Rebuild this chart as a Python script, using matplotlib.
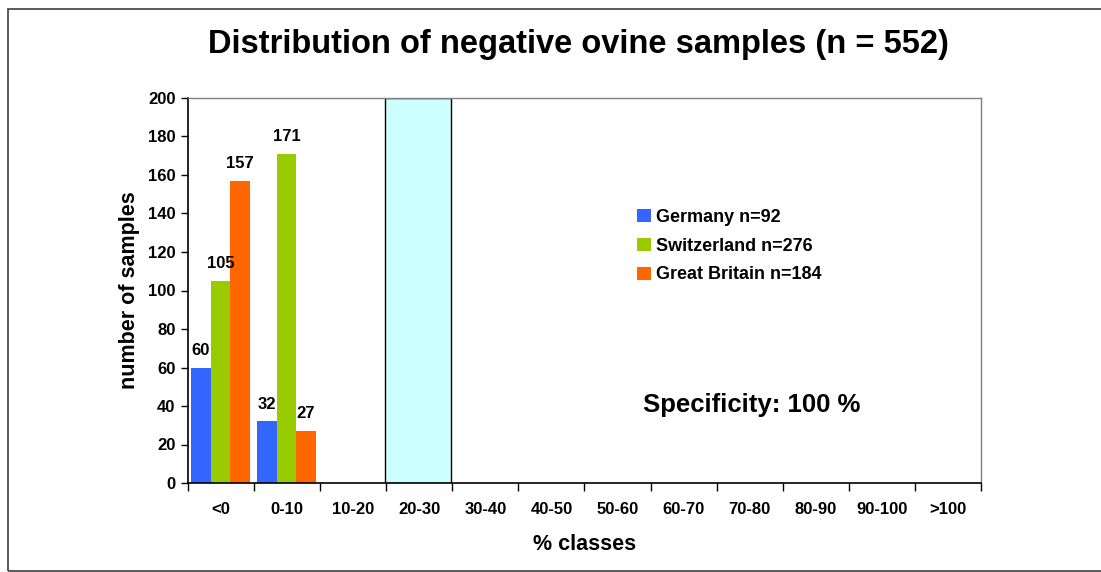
#!/usr/bin/env python3
"""Distribution of negative ovine samples per % class and country."""
import numpy as np
import matplotlib

matplotlib.use("Agg")
import matplotlib.pyplot as plt
from matplotlib.patches import Rectangle

plt.rcParams.update({"font.family": ["Liberation Sans", "DejaVu Sans"], "font.weight": "bold"})

CLASSES = ["<0", "0-10", "10-20", "20-30", "30-40", "40-50", "50-60",
           "60-70", "70-80", "80-90", "90-100", ">100"]
GERMANY = [60, 32, 0, 0, 0, 0, 0, 0, 0, 0, 0, 0]
SWITZERLAND = [105, 171, 0, 0, 0, 0, 0, 0, 0, 0, 0, 0]
GREAT_BRITAIN = [157, 27, 0, 0, 0, 0, 0, 0, 0, 0, 0, 0]
SERIES = [
    ("Germany n=92", GERMANY, "#3366FF"),
    ("Switzerland n=276", SWITZERLAND, "#99CC00"),
    ("Great Britain n=184", GREAT_BRITAIN, "#FF6600"),
]
CUTOFF_CLASS = "20-30"
Y_MAX = 200

fig = plt.figure(figsize=(11.01, 5.72), dpi=100)
ax = fig.add_axes([188 / 1101, 1 - 483 / 572, (981 - 188) / 1101, (483 - 98) / 572])

x = np.arange(len(CLASSES))
w = 0.295
ci = CLASSES.index(CUTOFF_CLASS)
ax.bar(ci - 0.02, Y_MAX, width=1.0, color="#CCFFFF", edgecolor="black", linewidth=1.0, zorder=1)

for i, (name, vals, col) in enumerate(SERIES):
    pos = x + (i - 1) * w - 0.01
    ax.bar(pos, vals, width=w, color=col, label=name, zorder=2)
    for p, v in zip(pos, vals):
        if v > 0:
            ax.text(p, v + 5, str(v), ha="center", va="bottom", fontsize=12,
                    fontweight="bold")

ax.set_xlim(-0.5, len(CLASSES) - 0.5)
ax.set_ylim(0, Y_MAX)
ax.set_yticks(range(0, Y_MAX + 1, 20))
ax.set_xticks(x)
ax.set_xticklabels(CLASSES)
ax.set_xticks(np.arange(-0.5, len(CLASSES)), minor=True)
ax.tick_params(axis="x", which="major", length=0, pad=14, labelsize=12)
ax.tick_params(axis="x", which="minor", length=6, width=1, color="black")
ax.tick_params(axis="y", length=5, width=1, labelsize=12, pad=4)
for lbl in ax.get_xticklabels() + ax.get_yticklabels():
    lbl.set_fontweight("bold")

for s in ("left", "bottom"):
    ax.spines[s].set_color("black")
    ax.spines[s].set_linewidth(1.2)
for s in ("top", "right"):
    ax.spines[s].set_color("#808080")
    ax.spines[s].set_linewidth(1.0)

ax.set_xlabel("% classes", fontsize=15.5, fontweight="bold", labelpad=12)
ax.set_ylabel("number of samples", fontsize=15.5, fontweight="bold", labelpad=6)

fig.text(578 / 1101, 1 - 44 / 572, "Distribution of negative ovine samples (n = 552)",
         ha="center", va="center", fontsize=23.5, fontweight="bold")
fig.text(752 / 1101, 1 - 405 / 572, "Specificity: 100 %", ha="center", va="center",
         fontsize=18.5, fontweight="bold")

leg = ax.legend(loc="upper left", bbox_to_anchor=(637 / 1101, 1 - 209 / 572),
                bbox_transform=fig.transFigure, frameon=False, fontsize=13,
                handlelength=0.75, handleheight=0.75, handletextpad=0.3,
                labelspacing=0.65, borderaxespad=0, borderpad=0)
for t in leg.get_texts():
    t.set_fontweight("bold")

fig.patches.append(Rectangle((8 / 1101, 1 - 571 / 572), 1.1, (571 - 9) / 572,
                             transform=fig.transFigure, fill=False,
                             edgecolor="#404040", linewidth=1.2))

fig.savefig("out.png", dpi=100)
